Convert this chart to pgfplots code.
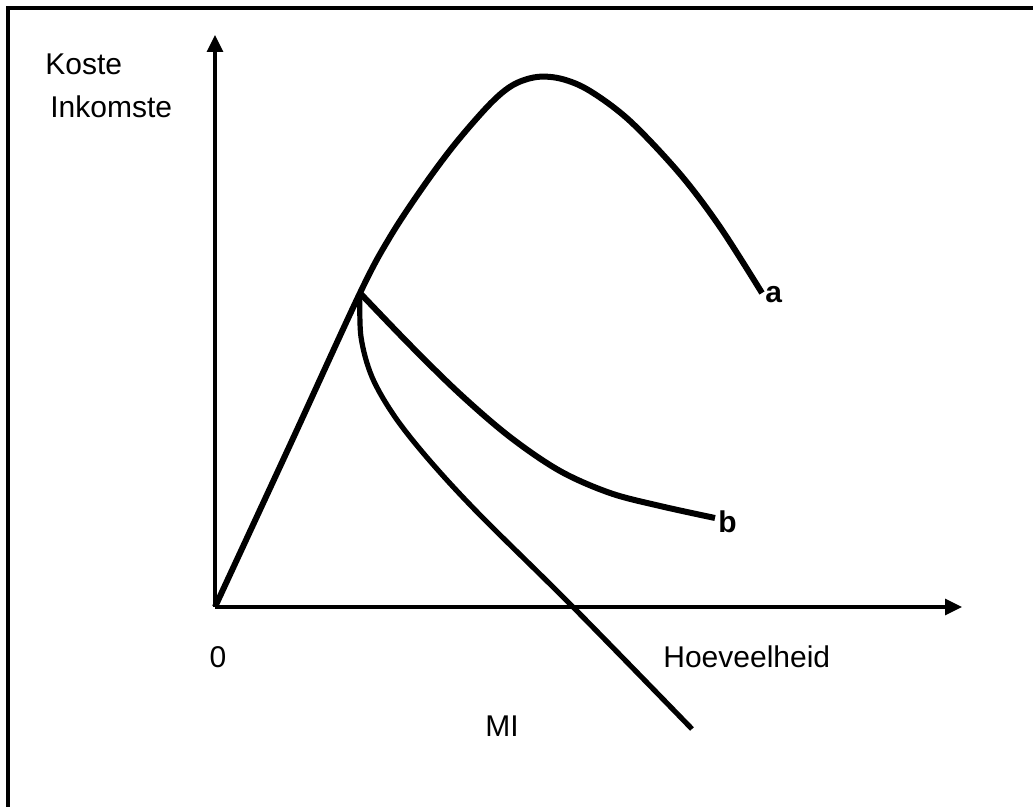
\documentclass[border=0pt]{standalone}
\usepackage{fontspec}
\setmainfont{Liberation Sans}
\usepackage{pgfplots}
\pgfplotsset{compat=1.18}
\usetikzlibrary{arrows.meta}
\newcommand{\lf}{\fontsize{15}{18}\selectfont}
\begin{document}
\begin{tikzpicture}
\begin{axis}[
  scale only axis, width=516.5pt, height=403.5pt,
  xmin=0, xmax=1033, ymin=0, ymax=807,
  hide axis,
]
\path (axis cs:0,0) rectangle (axis cs:1033,807);
% border (top and left)
\addplot[line width=2pt, black] coordinates {(8,0) (8,799) (1033,799)};
% axes
\addplot[line width=1.6pt, black, -{Triangle[length=8.5pt,width=8pt]}] coordinates {(215,200) (962,200)};
\addplot[line width=1.6pt, black, -{Triangle[length=8.5pt,width=8pt]}] coordinates {(215,200) (215,772)};
% curve a
\addplot[line width=3pt, black, smooth, tension=0.55] coordinates {
(215,200) (290,362) (360,514) (390,570) (423,620) (455,663) (490,703) (513,722)
(537,730) (562,728) (590,716) (630,686) (680,633) (720,580) (762,514)};
% curve b
\addplot[line width=3pt, black, smooth, tension=0.55] coordinates {
(360,514) (410,462) (460,413) (510,370) (560,336) (610,314) (660,301) (715,289)};
% curve MI
\addplot[line width=2.6pt, black, smooth, tension=0.55] coordinates {
(360,512) (361,470) (372,430) (395,390) (430,346) (480,292) (573,200) (692,78)};
% labels
\node[anchor=base west, inner sep=0pt, font=\lf] at (axis cs:45,732) {Koste};
\node[anchor=base west, inner sep=0pt, font=\lf] at (axis cs:50,689) {Inkomste};
\node[anchor=base, inner sep=0pt, font=\lf] at (axis cs:218,139) {0};
\node[anchor=base west, inner sep=0pt, font=\lf] at (axis cs:663,139) {Hoeveelheid};
\node[anchor=base, inner sep=0pt, font=\lf] at (axis cs:502,70) {MI};
\node[anchor=base west, inner sep=0pt, font=\lf\bfseries] at (axis cs:765,504) {a};
\node[anchor=base west, inner sep=0pt, font=\lf\bfseries] at (axis cs:718,274) {b};
\end{axis}
\end{tikzpicture}
\end{document}
